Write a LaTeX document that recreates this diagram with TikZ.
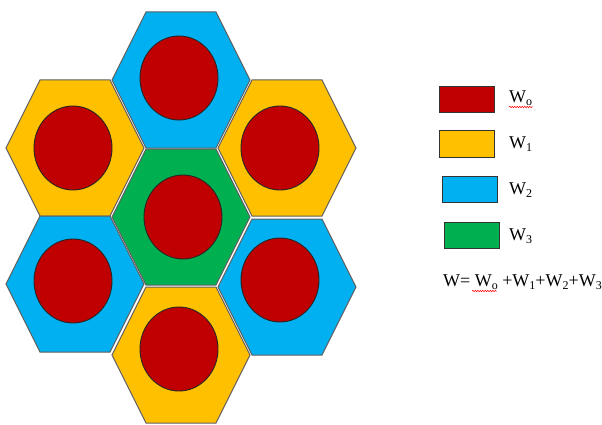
\documentclass[tikz,border=0pt]{standalone}
\usepackage{fontspec}
\setmainfont{Liberation Serif}
\usetikzlibrary{decorations.pathmorphing}
\definecolor{cred}{HTML}{C00000}
\definecolor{cyellow}{HTML}{FFC000}
\definecolor{cblue}{HTML}{00B0F0}
\definecolor{cgreen}{HTML}{00B050}
\definecolor{hexline}{HTML}{606060}
\newcommand\sbs[1]{\raisebox{-0.35ex}{\fontsize{12}{12}\selectfont #1}}
\tikzset{
  hexcell/.style={draw=hexline, line width=1pt, line join=miter},
  core/.style={draw=black!85, line width=0.9pt, fill=cred},
  legbox/.style={draw=black!80, line width=1pt, minimum width=55pt, minimum height=26pt, inner sep=0pt},
  leglabel/.style={anchor=west, inner sep=0pt, font=\fontsize{18}{18}\selectfont},
  squig/.style={draw=red, line width=0.5pt, decorate, decoration={snake, amplitude=0.7pt, segment length=2.5pt}}
}
\newcommand\hexat[3]{%
  \path[hexcell, fill=#3] (#1-69,#2) -- (#1-35,#2-68) -- (#1+35,#2-68) -- (#1+69,#2) -- (#1+35,#2+68) -- (#1-35,#2+68) -- cycle;}
\begin{document}
\begin{tikzpicture}[x=1pt, y=-1pt]
\useasboundingbox (0,0) rectangle (602,425);
% hexagons
\hexat{75}{148}{cyellow}
\hexat{75}{284}{cblue}
\hexat{181}{80}{cblue}
\hexat{181}{217}{cgreen}
\hexat{181}{355}{cyellow}
\hexat{287}{148}{cyellow}
\hexat{287}{287}{cblue}
% cores
\path[core] (73,148) ellipse [x radius=39, y radius=42];
\path[core] (73,281) ellipse [x radius=39, y radius=42];
\path[core] (179,78) ellipse [x radius=39, y radius=42];
\path[core] (183,217) ellipse [x radius=39, y radius=42];
\path[core] (179,349) ellipse [x radius=39, y radius=42];
\path[core] (280,148) ellipse [x radius=39, y radius=42];
\path[core] (280,280) ellipse [x radius=39, y radius=42];
% legend
\node[legbox, fill=cred] (l0) at (466.5,100) {};
\node[legbox, fill=cyellow] (l1) at (466.5,144) {};
\node[legbox, fill=cblue] (l2) at (469.5,189.5) {};
\node[legbox, fill=cgreen] (l3) at (472,235) {};
\node[leglabel] (t0) at (509,98) {W\sbs{o}};
\node[leglabel] (t1) at (509,144) {W\sbs{1}};
\node[leglabel] (t2) at (509,190) {W\sbs{2}};
\node[leglabel] (t3) at (509,236) {W\sbs{3}};
\node[leglabel] (sum) at (443,282) {W= W\sbs{o} +W\sbs{1}+W\sbs{2}+W\sbs{3}};
\coordinate (s0a) at (509,107);
\coordinate (s0b) at (533,107);
\coordinate (s1a) at (472,291);
\coordinate (s1b) at (497,291);
\path[squig] (s0a) -- (s0b);
\path[squig] (s1a) -- (s1b);
\end{tikzpicture}
\end{document}
